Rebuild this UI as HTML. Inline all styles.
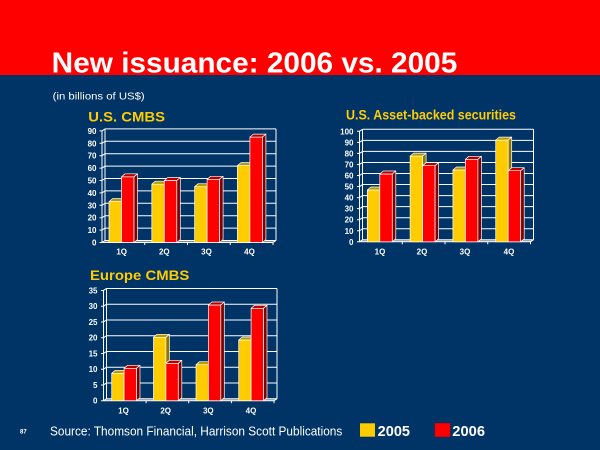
<!DOCTYPE html>
<html><head><meta charset="utf-8"><style>
html,body{margin:0;padding:0;background:#003366;}
svg{display:block;}
text{font-family:"Liberation Sans",Arial,sans-serif;}
</style></head><body>
<svg width="600" height="450" viewBox="0 0 600 450" xmlns="http://www.w3.org/2000/svg">
<rect x="0" y="0" width="600" height="450" fill="#003366"/>
<rect x="0" y="0" width="600" height="75" fill="#ff0000"/>
<text x="51.7" y="72.7" font-size="28.5" font-weight="bold" fill="#ffffff" textLength="405.6" lengthAdjust="spacingAndGlyphs">New issuance: 2006 vs. 2005</text>
<text x="52.7" y="99.5" font-size="10.5" fill="#ffffff" textLength="92" lengthAdjust="spacingAndGlyphs">(in billions of US$)</text>

<!-- Chart 1: U.S. CMBS -->
<text x="88.3" y="121.3" font-size="13.5" font-weight="bold" fill="#ffcc00" textLength="76.7" lengthAdjust="spacingAndGlyphs">U.S. CMBS</text>
<polygon points="102,242.5 273,242.5 276,240.5 105,240.5" fill="#8a8a8a"/>
<g stroke="#ffffff" stroke-width="1" fill="none">
<path d="M105 240.5H276M105 228.1H276M105 215.7H276M105 203.3H276M105 190.9H276M105 178.5H276M105 166.1H276M105 153.7H276M105 141.3H276M105 128.9H276"/>
<path d="M102 242.5L105 240.5M102 230.1L105 228.1M102 217.7L105 215.7M102 205.3L105 203.3M102 192.9L105 190.9M102 180.5L105 178.5M102 168.1L105 166.1M102 155.7L105 153.7M102 143.3L105 141.3M102 130.9L105 128.9"/>
<path d="M99.5 242.5H102M99.5 230.1H102M99.5 217.7H102M99.5 205.3H102M99.5 192.9H102M99.5 180.5H102M99.5 168.1H102M99.5 155.7H102M99.5 143.3H102M99.5 130.9H102"/>
<path d="M102 130.9V242.5M105 128.9V240.5M276 128.9V240.5M102 242.5H273L276 240.5"/>
<path d="M144.75 242.5V245M187.5 242.5V245M230.25 242.5V245M273 242.5V245"/>
</g>
<g stroke="#ffffff" stroke-width="0.7" stroke-linejoin="round">
<rect x="109" y="201.6" width="12.5" height="40.9" fill="#ffcc00"/><polygon points="109,201.6 121.5,201.6 125,198.6 112.5,198.6" fill="#b89a00"/><polygon points="121.5,201.6 125,198.6 125,239.5 121.5,242.5" fill="#8c7500"/>
<rect x="121.5" y="176.8" width="12.5" height="65.7" fill="#ff0000"/><polygon points="121.5,176.8 134,176.8 137.5,173.8 125,173.8" fill="#b00000"/><polygon points="134,176.8 137.5,173.8 137.5,239.5 134,242.5" fill="#800000"/>
<rect x="151.8" y="184.2" width="12.5" height="58.3" fill="#ffcc00"/><polygon points="151.8,184.2 164.3,184.2 167.8,181.2 155.3,181.2" fill="#b89a00"/><polygon points="164.3,184.2 167.8,181.2 167.8,239.5 164.3,242.5" fill="#8c7500"/>
<rect x="164.3" y="180.5" width="12.5" height="62" fill="#ff0000"/><polygon points="164.3,180.5 176.8,180.5 180.3,177.5 167.8,177.5" fill="#b00000"/><polygon points="176.8,180.5 180.3,177.5 180.3,239.5 176.8,242.5" fill="#800000"/>
<rect x="194.6" y="186.7" width="12.5" height="55.8" fill="#ffcc00"/><polygon points="194.6,186.7 207.1,186.7 210.6,183.7 198.1,183.7" fill="#b89a00"/><polygon points="207.1,186.7 210.6,183.7 210.6,239.5 207.1,242.5" fill="#8c7500"/>
<rect x="207.1" y="179.3" width="12.5" height="63.2" fill="#ff0000"/><polygon points="207.1,179.3 219.6,179.3 223.1,176.3 210.6,176.3" fill="#b00000"/><polygon points="219.6,179.3 223.1,176.3 223.1,239.5 219.6,242.5" fill="#800000"/>
<rect x="237.4" y="165.6" width="12.5" height="76.9" fill="#ffcc00"/><polygon points="237.4,165.6 249.9,165.6 253.4,162.6 240.9,162.6" fill="#b89a00"/><polygon points="249.9,165.6 253.4,162.6 253.4,239.5 249.9,242.5" fill="#8c7500"/>
<rect x="249.9" y="137.1" width="12.5" height="105.4" fill="#ff0000"/><polygon points="249.9,137.1 262.4,137.1 265.9,134.1 253.4,134.1" fill="#b00000"/><polygon points="262.4,137.1 265.9,134.1 265.9,239.5 262.4,242.5" fill="#800000"/>
</g>
<g font-size="8" font-weight="bold" fill="#ffffff" text-anchor="end">
<text x="96.5" y="245.5">0</text><text x="96.5" y="233.1">10</text><text x="96.5" y="220.7">20</text><text x="96.5" y="208.3">30</text><text x="96.5" y="195.9">40</text><text x="96.5" y="183.5">50</text><text x="96.5" y="171.1">60</text><text x="96.5" y="158.7">70</text><text x="96.5" y="146.3">80</text><text x="96.5" y="133.9">90</text>
</g>
<g font-size="8" font-weight="bold" fill="#ffffff" text-anchor="middle">
<text x="121.7" y="254.5">1Q</text><text x="164.3" y="254.5">2Q</text><text x="206.5" y="254.5">3Q</text><text x="249.5" y="254.5">4Q</text>
</g>

<!-- Chart 2: U.S. Asset-backed securities -->
<text x="346" y="119.3" font-size="13.5" font-weight="bold" fill="#ffcc00" textLength="170" lengthAdjust="spacingAndGlyphs">U.S. Asset-backed securities</text>
<polygon points="359.5,241.8 530.5,241.8 533.5,239.8 362.5,239.8" fill="#8a8a8a"/>
<g stroke="#ffffff" stroke-width="1" fill="none">
<path d="M362.5 239.8H533.5M362.5 228.75H533.5M362.5 217.7H533.5M362.5 206.65H533.5M362.5 195.6H533.5M362.5 184.55H533.5M362.5 173.5H533.5M362.5 162.45H533.5M362.5 151.4H533.5M362.5 140.35H533.5M362.5 129.3H533.5"/>
<path d="M359.5 241.8L362.5 239.8M359.5 230.75L362.5 228.75M359.5 219.7L362.5 217.7M359.5 208.65L362.5 206.65M359.5 197.6L362.5 195.6M359.5 186.55L362.5 184.55M359.5 175.5L362.5 173.5M359.5 164.45L362.5 162.45M359.5 153.4L362.5 151.4M359.5 142.35L362.5 140.35M359.5 131.3L362.5 129.3"/>
<path d="M357 241.8H359.5M357 230.75H359.5M357 219.7H359.5M357 208.65H359.5M357 197.6H359.5M357 186.55H359.5M357 175.5H359.5M357 164.45H359.5M357 153.4H359.5M357 142.35H359.5M357 131.3H359.5"/>
<path d="M359.5 131.3V241.8M362.5 129.3V239.8M533.5 129.3V239.8M359.5 241.8H530.5L533.5 239.8"/>
<path d="M402.25 241.8V244.3M445 241.8V244.3M487.75 241.8V244.3M530.5 241.8V244.3"/>
</g>
<g stroke="#ffffff" stroke-width="0.7" stroke-linejoin="round">
<rect x="367.3" y="190" width="12.5" height="51.8" fill="#ffcc00"/><polygon points="367.3,190 379.8,190 383.3,187 370.8,187" fill="#b89a00"/><polygon points="379.8,190 383.3,187 383.3,238.8 379.8,241.8" fill="#8c7500"/>
<rect x="379.8" y="174" width="12.5" height="67.8" fill="#ff0000"/><polygon points="379.8,174 392.3,174 395.8,171 383.3,171" fill="#b00000"/><polygon points="392.3,174 395.8,171 395.8,238.8 392.3,241.8" fill="#800000"/>
<rect x="410.1" y="156.1" width="12.5" height="85.7" fill="#ffcc00"/><polygon points="410.1,156.1 422.6,156.1 426.1,153.1 413.6,153.1" fill="#b89a00"/><polygon points="422.6,156.1 426.1,153.1 426.1,238.8 422.6,241.8" fill="#8c7500"/>
<rect x="422.6" y="165.7" width="12.5" height="76.1" fill="#ff0000"/><polygon points="422.6,165.7 435.1,165.7 438.6,162.7 426.1,162.7" fill="#b00000"/><polygon points="435.1,165.7 438.6,162.7 438.6,238.8 435.1,241.8" fill="#800000"/>
<rect x="452.9" y="170" width="12.5" height="71.8" fill="#ffcc00"/><polygon points="452.9,170 465.4,170 468.9,167 456.4,167" fill="#b89a00"/><polygon points="465.4,170 468.9,167 468.9,238.8 465.4,241.8" fill="#8c7500"/>
<rect x="465.4" y="159.3" width="12.5" height="82.5" fill="#ff0000"/><polygon points="465.4,159.3 477.9,159.3 481.4,156.3 468.9,156.3" fill="#b00000"/><polygon points="477.9,159.3 481.4,156.3 481.4,238.8 477.9,241.8" fill="#800000"/>
<rect x="495.7" y="140.1" width="12.5" height="101.7" fill="#ffcc00"/><polygon points="495.7,140.1 508.2,140.1 511.7,137.1 499.2,137.1" fill="#b89a00"/><polygon points="508.2,140.1 511.7,137.1 511.7,238.8 508.2,241.8" fill="#8c7500"/>
<rect x="508.2" y="170.7" width="12.5" height="71.1" fill="#ff0000"/><polygon points="508.2,170.7 520.7,170.7 524.2,167.7 511.7,167.7" fill="#b00000"/><polygon points="520.7,170.7 524.2,167.7 524.2,238.8 520.7,241.8" fill="#800000"/>
</g>
<g font-size="8" font-weight="bold" fill="#ffffff" text-anchor="end">
<text x="353.5" y="244.8">0</text><text x="353.5" y="233.75">10</text><text x="353.5" y="222.7">20</text><text x="353.5" y="211.65">30</text><text x="353.5" y="200.6">40</text><text x="353.5" y="189.55">50</text><text x="353.5" y="178.5">60</text><text x="353.5" y="167.45">70</text><text x="353.5" y="156.4">80</text><text x="353.5" y="145.35">90</text><text x="353.5" y="134.3">100</text>
</g>
<g font-size="8" font-weight="bold" fill="#ffffff" text-anchor="middle">
<text x="380" y="254.5">1Q</text><text x="422" y="254.5">2Q</text><text x="465" y="254.5">3Q</text><text x="509" y="254.5">4Q</text>
</g>

<!-- Chart 3: Europe CMBS -->
<text x="90" y="280" font-size="13.5" font-weight="bold" fill="#ffcc00" textLength="99.3" lengthAdjust="spacingAndGlyphs">Europe CMBS</text>
<polygon points="103.5,400.7 274,400.7 277,398.7 106.5,398.7" fill="#8a8a8a"/>
<g stroke="#ffffff" stroke-width="1" fill="none">
<path d="M106.5 398.7H277M106.5 382.95H277M106.5 367.2H277M106.5 351.45H277M106.5 335.7H277M106.5 319.95H277M106.5 304.2H277M106.5 288.45H277"/>
<path d="M103.5 400.7L106.5 398.7M103.5 384.95L106.5 382.95M103.5 369.2L106.5 367.2M103.5 353.45L106.5 351.45M103.5 337.7L106.5 335.7M103.5 321.95L106.5 319.95M103.5 306.2L106.5 304.2M103.5 290.45L106.5 288.45"/>
<path d="M101 400.7H103.5M101 384.95H103.5M101 369.2H103.5M101 353.45H103.5M101 337.7H103.5M101 321.95H103.5M101 306.2H103.5M101 290.45H103.5"/>
<path d="M103.5 290.45V400.7M106.5 288.45V398.7M277 288.45V398.7M103.5 400.7H274L277 398.7"/>
<path d="M146.1 400.7V403.2M188.75 400.7V403.2M231.4 400.7V403.2M274 400.7V403.2"/>
</g>
<g stroke="#ffffff" stroke-width="0.7" stroke-linejoin="round">
<rect x="111.7" y="373.3" width="12.4" height="27.4" fill="#ffcc00"/><polygon points="111.7,373.3 124.1,373.3 127.6,370.3 115.2,370.3" fill="#b89a00"/><polygon points="124.1,373.3 127.6,370.3 127.6,397.7 124.1,400.7" fill="#8c7500"/>
<rect x="124.1" y="368.3" width="12.4" height="32.4" fill="#ff0000"/><polygon points="124.1,368.3 136.5,368.3 140,365.3 127.6,365.3" fill="#b00000"/><polygon points="136.5,368.3 140,365.3 140,397.7 136.5,400.7" fill="#800000"/>
<rect x="153.5" y="337.3" width="12.4" height="63.4" fill="#ffcc00"/><polygon points="153.5,337.3 165.9,337.3 169.4,334.3 157,334.3" fill="#b89a00"/><polygon points="165.9,337.3 169.4,334.3 169.4,397.7 165.9,400.7" fill="#8c7500"/>
<rect x="165.9" y="363.3" width="12.4" height="37.4" fill="#ff0000"/><polygon points="165.9,363.3 178.3,363.3 181.8,360.3 169.4,360.3" fill="#b00000"/><polygon points="178.3,363.3 181.8,360.3 181.8,397.7 178.3,400.7" fill="#800000"/>
<rect x="196" y="364.7" width="12.4" height="36" fill="#ffcc00"/><polygon points="196,364.7 208.4,364.7 211.9,361.7 199.5,361.7" fill="#b89a00"/><polygon points="208.4,364.7 211.9,361.7 211.9,397.7 208.4,400.7" fill="#8c7500"/>
<rect x="208.4" y="305" width="12.4" height="95.7" fill="#ff0000"/><polygon points="208.4,305 220.8,305 224.3,302 211.9,302" fill="#b00000"/><polygon points="220.8,305 224.3,302 224.3,397.7 220.8,400.7" fill="#800000"/>
<rect x="238.7" y="340" width="12.4" height="60.7" fill="#ffcc00"/><polygon points="238.7,340 251.1,340 254.6,337 242.2,337" fill="#b89a00"/><polygon points="251.1,340 254.6,337 254.6,397.7 251.1,400.7" fill="#8c7500"/>
<rect x="251.1" y="308.3" width="12.4" height="92.4" fill="#ff0000"/><polygon points="251.1,308.3 263.5,308.3 267,305.3 254.6,305.3" fill="#b00000"/><polygon points="263.5,308.3 267,305.3 267,397.7 263.5,400.7" fill="#800000"/>
</g>
<g font-size="8" font-weight="bold" fill="#ffffff" text-anchor="end">
<text x="97.5" y="403.7">0</text><text x="97.5" y="387.95">5</text><text x="97.5" y="372.2">10</text><text x="97.5" y="356.45">15</text><text x="97.5" y="340.7">20</text><text x="97.5" y="324.95">25</text><text x="97.5" y="309.2">30</text><text x="97.5" y="293.45">35</text>
</g>
<g font-size="8" font-weight="bold" fill="#ffffff" text-anchor="middle">
<text x="123.5" y="413.5">1Q</text><text x="165.7" y="413.5">2Q</text><text x="208.3" y="413.5">3Q</text><text x="251" y="413.5">4Q</text>
</g>

<!-- Footer -->
<text x="20" y="433.5" font-size="6" font-weight="bold" fill="#ffffff">87</text>
<text x="50" y="435.5" font-size="12.5" fill="#ffffff" textLength="292.3" lengthAdjust="spacingAndGlyphs">Source:  Thomson Financial, Harrison Scott Publications</text>
<rect x="360" y="423.3" width="15" height="13.4" fill="#ffcc00"/>
<text x="377.7" y="436" font-size="14.5" font-weight="bold" fill="#ffffff" textLength="32.3" lengthAdjust="spacingAndGlyphs">2005</text>
<rect x="435" y="423.3" width="15" height="13.4" fill="#ff0000" stroke="#cc0000" stroke-width="0.6"/>
<text x="452.3" y="436" font-size="14.5" font-weight="bold" fill="#ffffff" textLength="32.7" lengthAdjust="spacingAndGlyphs">2006</text>
</svg>
</body></html>
